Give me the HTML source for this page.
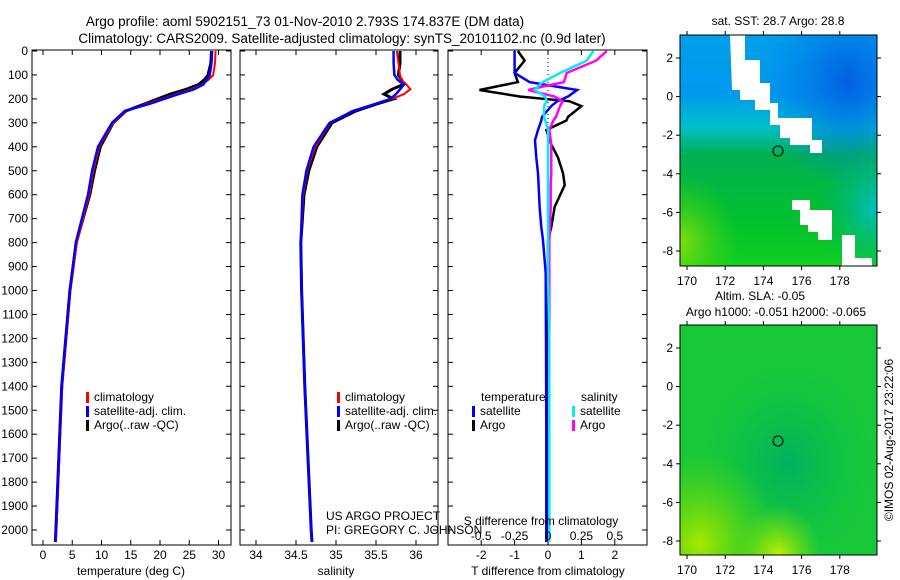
<!DOCTYPE html>
<html><head><meta charset="utf-8"><style>
body{margin:0;background:#fff;}
svg{display:block;font-family:"Liberation Sans",sans-serif;}
text{font-size:12px;fill:#000;}
</style></head><body>
<svg id="fig" width="900" height="580" viewBox="0 0 900 580">
<defs>
<linearGradient id="sstg" x1="0" y1="0" x2="0" y2="1">
<stop offset="0" stop-color="#00a0e8"/><stop offset="0.25" stop-color="#0098f0"/><stop offset="0.4" stop-color="#00c0c8"/><stop offset="0.52" stop-color="#00b050"/><stop offset="0.78" stop-color="#00c030"/><stop offset="1" stop-color="#10d020"/>
</linearGradient>
<radialGradient id="sstb" cx="0.85" cy="0.2" r="0.45"><stop offset="0" stop-color="#0060e0"/><stop offset="1" stop-color="#0080f0" stop-opacity="0"/></radialGradient>
<radialGradient id="sstl" cx="0" cy="0.9" r="0.3"><stop offset="0" stop-color="#80e010"/><stop offset="1" stop-color="#40d010" stop-opacity="0"/></radialGradient>
<radialGradient id="sstc" cx="1" cy="0.75" r="0.3"><stop offset="0" stop-color="#00c0c0"/><stop offset="1" stop-color="#00b080" stop-opacity="0"/></radialGradient>
<radialGradient id="slac" cx="0.55" cy="0.6" r="0.5"><stop offset="0" stop-color="#00b060"/><stop offset="1" stop-color="#10c840" stop-opacity="0"/></radialGradient>
<radialGradient id="slay" cx="0.1" cy="0.95" r="0.4"><stop offset="0" stop-color="#a8e800"/><stop offset="1" stop-color="#60d800" stop-opacity="0"/></radialGradient>
<radialGradient id="slay2" cx="0.5" cy="1" r="0.22"><stop offset="0" stop-color="#c0f000"/><stop offset="1" stop-color="#80e000" stop-opacity="0"/></radialGradient>
</defs>
<text x="305" y="26" text-anchor="middle" style="font-size:13.5px">Argo profile: aoml 5902151_73 01-Nov-2010 2.793S 174.837E (DM data)</text>
<text x="342" y="43" text-anchor="middle" style="font-size:13.5px">Climatology: CARS2009. Satellite-adjusted climatology: synTS_20101102.nc (0.9d later)</text>
<g id="p1"></g>
<g id="p2"></g>
<g id="p3"></g>
<g id="m1">
<rect x="680" y="35" width="197" height="231" fill="url(#sstg)"/>
<rect x="680" y="35" width="197" height="231" fill="url(#sstb)"/>
<rect x="680" y="35" width="197" height="231" fill="url(#sstl)"/>
<rect x="680" y="35" width="197" height="231" fill="url(#sstc)"/>
<polygon points="730,35 745,35 745,60 760,60 760,83 770,83 770,103 778,103 778,118 812,118 812,140 822,140 822,153 810,153 810,145 790,145 790,138 780,138 780,125 770,125 770,110 755,110 755,100 740,100 740,90 732,90" fill="#fff"/>
<polygon points="792,200 810,200 810,210 832,210 832,240 818,240 818,232 808,232 808,225 800,225 800,210 792,210" fill="#fff"/>
<polygon points="842,235 855,235 855,258 872,258 872,266 842,266" fill="#fff"/>
<circle cx="778" cy="151" r="5" fill="none" stroke="#000"/>
<rect x="680" y="35" width="197" height="231" fill="none" stroke="#000"/>
<text x="778" y="25" text-anchor="middle">sat. SST: 28.7 Argo: 28.8</text>
</g>
<g id="m2">
<rect x="680" y="325" width="197" height="230" fill="#18c838"/>
<rect x="680" y="325" width="197" height="230" fill="url(#slac)"/>
<rect x="680" y="325" width="197" height="230" fill="url(#slay)"/>
<rect x="680" y="325" width="197" height="230" fill="url(#slay2)"/>
<circle cx="778" cy="441" r="5" fill="none" stroke="#000"/>
<rect x="680" y="325" width="197" height="230" fill="none" stroke="#000"/>
<text x="760" y="300" text-anchor="middle">Altim. SLA: -0.05</text>
<text x="776" y="316" text-anchor="middle">Argo h1000: -0.051 h2000: -0.065</text>
</g>
<text transform="translate(893,440) rotate(-90)" text-anchor="middle">©IMOS 02-Aug-2017 23:22:06</text>
<text x="326" y="520">US ARGO PROJECT</text>
<text x="326" y="534">PI: GREGORY C. JOHNSON</text>
</svg>
<script>
// ---- data ----
const depths=[0,50,100,120,140,160,180,200,220,250,300,400,500,600,800,1000,1400,1700,2000,2050];
const tempClim=[29.5,29.4,29.1,28.3,27.2,25.3,22.8,20.3,17.8,14.2,12.0,9.6,8.6,7.9,5.8,4.7,3.3,2.8,2.3,2.2];
const tempSat=[28.9,28.8,28.5,28.0,27.4,25.8,23.2,20.7,18.3,14.0,11.8,9.4,8.4,7.7,5.6,4.6,3.2,2.7,2.2,2.1];
const tempArgo=[28.8,28.7,28.2,27.6,26.6,24.5,21.8,19.6,17.5,14.2,12.0,9.8,8.8,8.0,5.7,4.6,3.2,2.7,2.2,2.1];
const salClim=[35.76,35.78,35.8,35.82,35.88,35.93,35.85,35.7,35.5,35.2,34.93,34.74,34.64,34.59,34.56,34.57,34.61,34.65,34.69,34.70];
const salSat=[35.72,35.72,35.73,35.77,35.85,35.8,35.75,35.68,35.5,35.22,34.92,34.72,34.63,34.58,34.56,34.57,34.61,34.65,34.69,34.70];
const salArgo=[35.80,35.80,35.78,35.82,35.84,35.7,35.6,35.72,35.52,35.25,34.95,34.76,34.66,34.6,34.56,34.57,34.61,34.65,34.69,34.70];
const diffDepths=[0,40,92,130,150,163,190,210,230,275,290,330,372,390,445,510,560,650,735,790,927,1200,1600,2050];
const dTsat=[-1.0,-1.0,-1.0,-0.55,0.3,0.87,0.6,0.27,0.1,-0.18,-0.2,-0.3,-0.39,-0.38,-0.35,-0.3,-0.28,-0.25,-0.2,-0.15,-0.07,-0.06,-0.05,-0.05];
const dTargo=[-0.9,-0.7,-1.0,-0.9,-1.6,-2.05,-0.85,0.65,1.0,0.6,0.55,-0.05,0.05,0.1,0.3,0.45,0.5,0.2,0.1,0.0,0.0,0.0,0.0,0.0];
const dSsat=[0.34,0.29,0.09,-0.04,-0.08,-0.1,-0.02,-0.01,-0.03,-0.03,-0.02,0.0,0.0,0.0,0.0,0.0,0.0,0.0,0.0,0.0,0.0,0.01,0.01,0.01];
const dSargo=[0.44,0.36,0.14,0.12,-0.05,-0.15,0.05,0.11,0.09,0.06,0.04,0.01,0.02,0.025,0.025,0.025,0.02,0.02,0.015,0.01,0.01,0.01,0.01,0.01];
const depthTicks=[0,100,200,300,400,500,600,700,800,900,1000,1100,1200,1300,1400,1500,1600,1700,1800,1900,2000];
const tempTicks=[0,5,10,15,20,25,30];
const salTicks=[34,34.5,35,35.5,36];
const tdTicks=[-2,-1,0,1,2];
const sdTicks=[-0.5,-0.25,0,0.25,0.5];
const sdTickLabels=["-0.5","-0.25","0","0.25","0.5"];
const latTicks=[2,0,-2,-4,-6,-8];
const lonTicks=[170,172,174,176,178];
// ---- helpers ----
const NS='http://www.w3.org/2000/svg';
const Y0=51,YK=0.2395,TOP=50,BOT=545;
const yD=d=>Y0+d*YK;
function mk(tag,attrs,parent,txt){const e=document.createElementNS(NS,tag);for(const k in attrs)e.setAttribute(k,attrs[k]);if(txt!==undefined)e.textContent=txt;parent.appendChild(e);return e;}
function frame(g,x0,x1,xs,ticks,labels,xfn,ylabels){
  mk('rect',{x:x0,y:TOP,width:x1-x0,height:BOT-TOP,fill:'none',stroke:'#000'},g);
  ticks.forEach((t,i)=>{const x=xfn(t);
    mk('line',{x1:x,x2:x,y1:TOP,y2:TOP+5,stroke:'#000'},g);
    mk('line',{x1:x,x2:x,y1:BOT,y2:BOT-5,stroke:'#000'},g);
    const tx=mk('text',{x:x,y:BOT+14,'text-anchor':'middle'},g,labels[i]);
    
    });
  depthTicks.forEach(d=>{const y=yD(d);
    mk('line',{x1:x0,x2:x0+5,y1:y,y2:y,stroke:'#000'},g);
    mk('line',{x1:x1,x2:x1-5,y1:y,y2:y,stroke:'#000'},g);
    if(ylabels){const tx=mk('text',{x:x0-4,y:y+4,'text-anchor':'end'},g,String(d));
      
      }});
}
function line(g,xs,ds,xfn,color,w,name){
  const pts=xs.map((v,i)=>xfn(v).toFixed(1)+','+yD(ds[i]).toFixed(1)).join(' ');
  const p=mk('polyline',{points:pts,fill:'none',stroke:color,'stroke-width':w},g);
  
  
}
function legend(g,x,y,items){items.forEach((it,i)=>{
  mk('rect',{x:x,y:y+i*14-9,width:3,height:11,fill:it[1]},g);
  const t=mk('text',{x:x+8,y:y+i*14},g,it[0]);
  
  });}
// panel 1
const g1=document.getElementById('p1');const xT=t=>43+t*5.85;
frame(g1,32,231,null,tempTicks,tempTicks.map(String),xT,true);
line(g1,tempArgo,depths,xT,'#000',3,'argo-temperature-line');
line(g1,tempClim,depths,xT,'#f00',2,'climatology-temperature-line');
line(g1,tempSat,depths,xT,'#00f',2.5,'satellite-temperature-line');
mk('text',{x:131,y:575,'text-anchor':'middle'},g1,'temperature (deg C)');
legend(g1,86,401,[['climatology','#f00'],['satellite-adj. clim.','#00f'],['Argo(..raw -QC)','#000']]);
// panel 2
const g2=document.getElementById('p2');const xS=s=>256+(s-34)*80;
frame(g2,240,438,null,salTicks,salTicks.map(String),xS,false);
line(g2,salArgo,depths,xS,'#000',3,'argo-salinity-line');
line(g2,salClim,depths,xS,'#f00',2,'climatology-salinity-line');
line(g2,salSat,depths,xS,'#00f',2.5,'satellite-salinity-line');
mk('text',{x:336,y:575,'text-anchor':'middle'},g2,'salinity');
legend(g2,337,401,[['climatology','#f00'],['satellite-adj. clim.','#00f'],['Argo(..raw -QC)','#000']]);
// panel 3
const g3=document.getElementById('p3');const xTD=t=>548+t*33.4;const xSD=s=>548+s*133.6;
frame(g3,448,647,null,tdTicks,tdTicks.map(String),xTD,false);
mk('line',{x1:548,x2:548,y1:TOP,y2:BOT,stroke:'#000','stroke-dasharray':'1,3'},g3);
line(g3,dTargo,diffDepths,xTD,'#000',2.5,'argo-temp-diff-line');
line(g3,dTsat,diffDepths,xTD,'#00f',2.5,'satellite-temp-diff-line');
line(g3,dSargo,diffDepths,xSD,'#f0f',2.5,'argo-sal-diff-line');
line(g3,dSsat,diffDepths,xSD,'#0ee',2.5,'satellite-sal-diff-line');
sdTicks.forEach((s,i)=>{const t=mk('text',{x:xSD(s),y:540,'text-anchor':'middle'},g3,sdTickLabels[i]);
  
  });
mk('text',{x:541,y:525,'text-anchor':'middle'},g3,'S difference from climatology');
mk('text',{x:548,y:575,'text-anchor':'middle'},g3,'T difference from climatology');
mk('text',{x:481,y:401},g3,'temperature');
mk('text',{x:581,y:401},g3,'salinity');
legend(g3,472,415,[['satellite','#00f'],['Argo','#000']]);
legend(g3,572,415,[['satellite','#0ee'],['Argo','#f0f']]);
// map axes
function mapAxes(id,y0,y1,latBase){const g=document.getElementById(id);
  lonTicks.forEach(l=>{const x=687+(l-170)*19.1;
    mk('line',{x1:x,x2:x,y1:y0,y2:y0-4,stroke:'#000'},g);
    mk('line',{x1:x,x2:x,y1:y1,y2:y1+4,stroke:'#000'},g);
    const t=mk('text',{x:x,y:y1+19,'text-anchor':'middle'},g,String(l));
    
    });
  latTicks.forEach(l=>{const y=latBase+(2-l)*19.3;
    mk('line',{x1:680,x2:676,y1:y,y2:y,stroke:'#000'},g);
    mk('line',{x1:877,x2:881,y1:y,y2:y,stroke:'#000'},g);
    const t=mk('text',{x:673,y:y+4,'text-anchor':'end'},g,String(l));
    
    });}
mapAxes('m1',35,266,58);
mapAxes('m2',325,555,348);
</script>
</body></html>
